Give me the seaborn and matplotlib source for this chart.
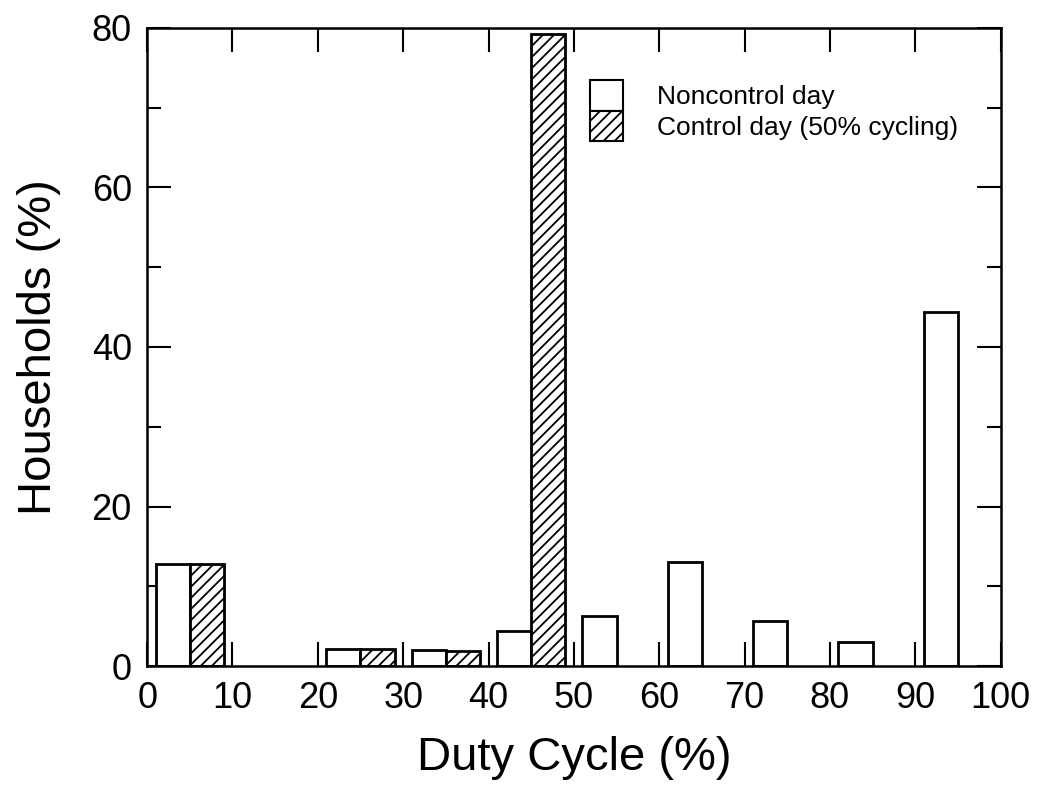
import matplotlib
matplotlib.use('Agg')
import matplotlib.pyplot as plt
import matplotlib.patches as mpatches
from matplotlib.ticker import MultipleLocator
import seaborn as sns
import pandas as pd

# duty cycle bins (lower edge, %)
noncontrol_bins = [0, 20, 30, 40, 50, 60, 70, 80, 90]
noncontrol_vals = [12.8, 2.1, 2.0, 4.4, 6.3, 13.1, 5.6, 3.0, 44.4]
control_bins = [0, 20, 30, 40]
control_vals = [12.8, 2.1, 1.9, 79.2]

sns.set_style('ticks')
plt.rcParams['font.family'] = ['Liberation Sans', 'DejaVu Sans']
plt.rcParams['hatch.linewidth'] = 1.3
plt.rcParams['text.color'] = 'black'
plt.rcParams['axes.labelcolor'] = 'black'

df_non = pd.DataFrame({'pos': [b + 3 for b in noncontrol_bins], 'val': noncontrol_vals})
df_ctl = pd.DataFrame({'pos': [b + 7 for b in control_bins], 'val': control_vals})

fig = plt.figure(figsize=(10.51, 7.93), dpi=100)
ax = fig.add_axes([0.14, 0.160, 0.812, 0.805])

sns.barplot(data=df_non, x='pos', y='val', native_scale=True, width=0.4,
            color='white', edgecolor='black', linewidth=2, ax=ax)
sns.barplot(data=df_ctl, x='pos', y='val', native_scale=True, width=0.4,
            color='white', edgecolor='black', linewidth=2, hatch='///', ax=ax)

ax.set_xlim(0, 100)
ax.set_ylim(0, 80)
ax.xaxis.set_major_locator(MultipleLocator(10))
ax.yaxis.set_major_locator(MultipleLocator(20))
ax.yaxis.set_minor_locator(MultipleLocator(10))
ax.tick_params(which='both', direction='in', top=True, right=True, width=1.5,
               colors='black', labelcolor='black')
ax.tick_params(which='major', length=17, labelsize=26, pad=11)
ax.tick_params(which='minor', length=10)
ax.tick_params(axis='x', which='minor', top=False, bottom=False)
for s in ax.spines.values():
    s.set_linewidth(1.8)
    s.set_color('black')

ax.set_xlabel('Duty Cycle (%)', fontsize=34, labelpad=14)
ax.set_ylabel('Households (%)', fontsize=34, labelpad=22)

handles = [mpatches.Patch(facecolor='white', edgecolor='black', linewidth=1.5, label='Noncontrol day'),
           mpatches.Patch(facecolor='white', edgecolor='black', linewidth=1.5, hatch='///',
                          label='Control day (50% cycling)')]
ax.legend(handles=handles, loc='upper left', bbox_to_anchor=(0.519, 0.918), frameon=False,
          fontsize=19, handlelength=1.25, handleheight=1.4, labelspacing=0,
          handletextpad=1.3, borderpad=0, borderaxespad=0)

fig.savefig('out.png', dpi=100, facecolor='white')
